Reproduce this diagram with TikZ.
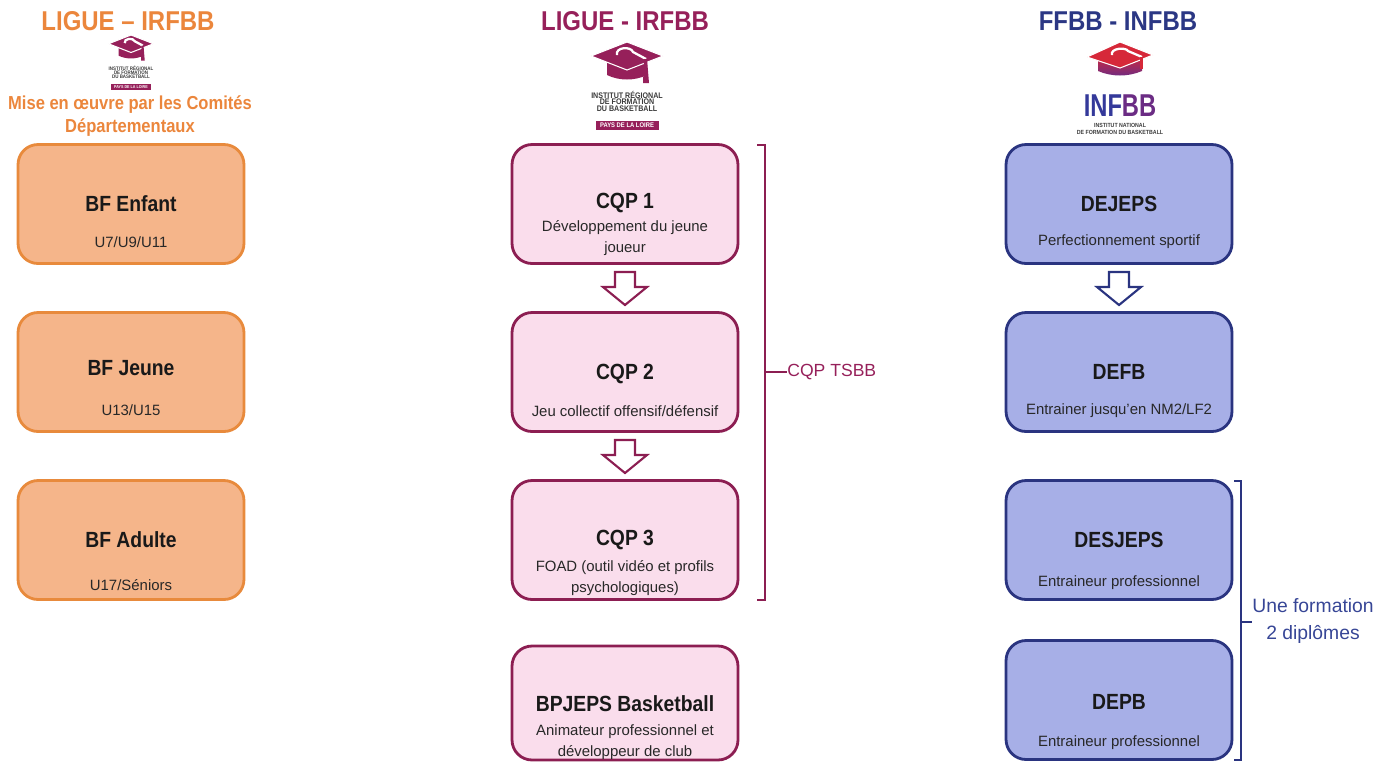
\documentclass[tikz,border=0pt]{standalone}
\usepackage{fontspec}
\setmainfont{Liberation Sans}[BoldFeatures={FakeStretch=0.88}]
\newfontfamily\logofont{Liberation Sans}[FakeStretch=0.75]
\usetikzlibrary{calc}

\definecolor{orangeHead}{RGB}{235,134,60}
\definecolor{orangeFill}{RGB}{245,181,138}
\definecolor{orangeLine}{RGB}{232,138,60}
\definecolor{purpleHead}{RGB}{150,32,90}
\definecolor{purpleFill}{RGB}{250,221,236}
\definecolor{purpleLine}{RGB}{140,30,82}
\definecolor{blueHead}{RGB}{43,55,132}
\definecolor{blueFill}{RGB}{167,175,231}
\definecolor{blueLine}{RGB}{42,52,128}
\definecolor{blueText}{RGB}{55,70,150}
\definecolor{logoRed}{RGB}{214,40,57}
\definecolor{logoViolet}{RGB}{107,44,132}
\definecolor{logoBlue}{RGB}{52,57,154}
\definecolor{darkText}{RGB}{25,25,25}
\definecolor{subText}{RGB}{40,40,40}

\begin{document}
\begin{tikzpicture}[x=0.02cm, y=-0.02cm,
    box/.style={draw, rounded corners=0.4cm, line width=1.6pt, minimum width=4.52cm, minimum height=2.38cm},
    orangebox/.style={box, draw=orangeLine, fill=orangeFill},
    pinkbox/.style={box, draw=purpleLine, fill=purpleFill},
    bluebox/.style={box, draw=blueLine, fill=blueFill},
    boxtitle/.style={font=\bfseries\fontsize{12.5}{14}\selectfont, text=darkText, inner sep=0},
    boxsub/.style={font=\fontsize{8.5}{11.9}\selectfont, align=center, text=subText, inner sep=0},
    colhead/.style={font=\bfseries\fontsize{15.5}{18}\selectfont, inner sep=0},
    hollow/.style={fill=white, line width=1.2pt, line join=miter},
    bracket/.style={line width=1.4pt},
    logotext/.style={font=\bfseries\fontsize{4.6}{5}\selectfont, text=darkText!85, inner sep=0},
  ]
  \useasboundingbox (0,0) rectangle (1392,762);

  % en-tetes
  \node[colhead, text=orangeHead] (headL) at (128,21) {LIGUE – IRFBB};
  \node[colhead, text=purpleHead] (headM) at (625,21) {LIGUE - IRFBB};
  \node[colhead, text=blueHead] (headR) at (1118,21) {FFBB - INFBB};
  \node[font=\bfseries\fontsize{10.7}{13.6}\selectfont, text=orangeHead, align=center, inner sep=0] (comites) at (130,116)
    {Mise en œuvre par les Comités\\Départementaux};

  % logos IRFBB
  \foreach \lx/\ly/\ls/\ln in {131/35/0.625/L, 627/42/1/M}{
    \begin{scope}[shift={(\lx,\ly)}, scale=\ls, transform shape]
      \fill[purpleHead] (-20,18) -- (0,27) -- (20,18) -- (20,33) .. controls (8,39) and (-8,39) .. (-20,33) -- cycle;
      \filldraw[purpleHead, draw=white, line width=0.6pt] (-36,14) -- (0,0) -- (36,14) -- (0,28) -- cycle;
      \draw[white, line width=1.3pt] (-10,13) .. controls (-12,5) and (4,4) .. (6,10) -- (19,17);
      \fill[purpleHead] (17,17) -- (20,17) -- (22,41) -- (16,41) -- cycle;
      \node[logotext] (inst\ln) at (0,53) {INSTITUT RÉGIONAL};
      \node[logotext] (form\ln) at (0,60) {DE FORMATION};
      \node[logotext] (bask\ln) at (0,67) {DU BASKETBALL};
      \node[fill=purpleHead, text=white, font=\bfseries\fontsize{3.8}{4}\selectfont, minimum width=1.26cm, minimum height=0.18cm, inner sep=0] (pays\ln) at (0,83) {PAYS DE LA LOIRE};
    \end{scope}
  }

  % logo INFBB
  \begin{scope}[shift={(1120,42)}]
    \shade[top color=logoRed, bottom color=logoViolet] (-22,14) -- (0,26) -- (22,13) -- (22,29) .. controls (8,35) and (-8,35) .. (-22,29) -- cycle;
    \filldraw[logoRed, draw=white, line width=0.6pt] (-33,15) -- (0,0) -- (33,13) -- (0,26) -- cycle;
    \draw[white, line width=1.3pt] (-8,13) .. controls (-10,6) and (6,5) .. (8,9) -- (22,15);
    \fill[logoRed] (20,15) -- (23,15) -- (23,27) -- (20,27) -- cycle;
    \node[font=\logofont\bfseries\fontsize{18}{18}\selectfont, inner sep=0] (infbb) at (0,64)
      {\textcolor{logoBlue}{INF}\textcolor{logoViolet}{BB}};
    \node[logotext, font=\bfseries\fontsize{3.4}{4}\selectfont] (instR) at (0,83) {INSTITUT NATIONAL};
    \node[logotext, font=\bfseries\fontsize{3.4}{4}\selectfont] (formR) at (0,90) {DE FORMATION DU BASKETBALL};
  \end{scope}

  % colonne ligue (comites)
  \node[orangebox] (bfA) at (131,204) {};
  \node[orangebox] (bfB) at (131,372) {};
  \node[orangebox] (bfC) at (131,540) {};
  \node[boxtitle] (bfAt) at (131,204) {BF Enfant};
  \node[boxsub] (bfAs) at (131,242) {U7/U9/U11};
  \node[boxtitle] (bfBt) at (131,368) {BF Jeune};
  \node[boxsub] (bfBs) at (131,410) {U13/U15};
  \node[boxtitle] (bfCt) at (131,540) {BF Adulte};
  \node[boxsub] (bfCs) at (131,585) {U17/Séniors};

  % colonne ligue (CQP)
  \node[pinkbox] (cqpA) at (625,204) {};
  \node[pinkbox] (cqpB) at (625,372) {};
  \node[pinkbox] (cqpC) at (625,540) {};
  \node[pinkbox, minimum height=2.28cm] (bpj) at (625,703) {};
  \node[boxtitle] (cqpAt) at (625,203) {CQP 1};
  \node[boxsub] (cqpAs) at (625,238) {Développement du jeune\\joueur};
  \node[boxtitle] (cqpBt) at (625,374) {CQP 2};
  \node[boxsub] (cqpBs) at (625,411) {Jeu collectif offensif/défensif};
  \node[boxtitle] (cqpCt) at (625,540) {CQP 3};
  \node[boxsub] (cqpCs) at (625,578) {FOAD (outil vidéo et profils\\psychologiques)};
  \node[boxtitle] (bpjt) at (625,704) {BPJEPS Basketball};
  \node[boxsub] (bpjs) at (625,742) {Animateur professionnel et\\développeur de club};

  % fleches creuses
  \coordinate (arrA) at ($(cqpA.south)!0.5!(cqpB.north)$);
  \coordinate (arrB) at ($(cqpB.south)!0.5!(cqpC.north)$);
  \foreach \a in {arrA, arrB}
    \draw[hollow, draw=purpleLine] (\a) ++(-10,-16) -- ++(20,0) -- ++(0,15) -- ++(12,0) -- ++(-22,18) -- ++(-22,-18) -- ++(12,0) -- cycle;

  % accolade CQP TSBB
  \coordinate (tsbbTop) at (765,145);
  \coordinate (tsbbBot) at (765,600);
  \coordinate (tsbbMid) at (765,372);
  \node[font=\fontsize{10}{12}\selectfont, text=purpleHead, anchor=west, inner sep=0] (tsbb) at (787,372) {CQP TSBB};
  \draw[bracket, purpleLine] ($(tsbbTop)+(-8,0)$) -- (tsbbTop) -- (tsbbBot) -- ++(-8,0);
  \draw[bracket, purpleLine] (tsbbMid) -- (tsbb.west);

  % colonne FFBB
  \node[bluebox] (deA) at (1119,204) {};
  \node[bluebox] (deB) at (1119,372) {};
  \node[bluebox] (deC) at (1119,540) {};
  \node[bluebox] (deD) at (1119,700) {};
  \node[boxtitle] (deAt) at (1119,204) {DEJEPS};
  \node[boxsub] (deAs) at (1119,242) {Perfectionnement sportif};
  \node[boxtitle] (deBt) at (1119,372) {DEFB};
  \node[boxsub] (deBs) at (1119,411) {Entrainer jusqu'en NM2/LF2};
  \node[boxtitle] (deCt) at (1119,540) {DESJEPS};
  \node[boxsub] (deCs) at (1119,583) {Entraineur professionnel};
  \node[boxtitle] (deDt) at (1119,702) {DEPB};
  \node[boxsub] (deDs) at (1119,743) {Entraineur professionnel};

  \coordinate (arrC) at ($(deA.south)!0.5!(deB.north)$);
  \draw[hollow, draw=blueLine] (arrC) ++(-10,-16) -- ++(20,0) -- ++(0,15) -- ++(12,0) -- ++(-22,18) -- ++(-22,-18) -- ++(12,0) -- cycle;

  % accolade diplomes
  \coordinate (dipTop) at (1241,481);
  \coordinate (dipBot) at (1241,760);
  \coordinate (dipMid) at (1241,622);
  \node[font=\fontsize{11}{15.3}\selectfont, text=blueText, align=center, inner sep=0] (dip) at (1313,621) {Une formation\\2 diplômes};
  \draw[bracket, blueLine] ($(dipTop)+(-7,0)$) -- (dipTop) -- (dipBot) -- ++(-7,0);
  \draw[bracket, blueLine] (dipMid) -- (dip.west |- dipMid);
\end{tikzpicture}
\end{document}
